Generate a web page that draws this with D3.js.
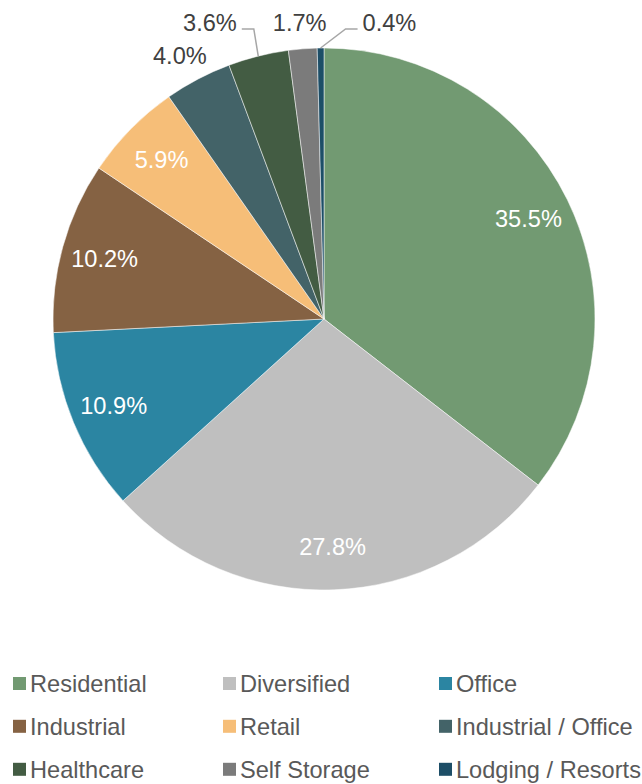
<!DOCTYPE html>
<html lang="en">
<head>
    <meta charset="UTF-8">
    <title>Pie Chart</title>
    <script src="https://d3js.org/d3.v7.min.js"></script>
    <style>
        body { margin: 0; background: #fff; }
        text { font-family: "Liberation Sans", Arial, sans-serif; }
    </style>
</head>
<body>
    <svg width="642" height="784"></svg>
    <script>
        // Data
        const categories = ["Residential", "Diversified", "Office", "Industrial", "Retail",
            "Industrial / Office", "Healthcare", "Self Storage", "Lodging / Resorts"];
        const shares = [35.5, 27.8, 10.9, 10.2, 5.9, 4.0, 3.6, 1.7, 0.4];
        const colors = ["#729a72", "#bfbfbf", "#2b85a2", "#856243", "#f6be78",
            "#436368", "#435c43", "#7b7b7b", "#1d4e67"];

        const data = categories.map((c, i) => ({ name: c, value: shares[i], color: colors[i] }));

        const cx = 324, cy = 319, radius = 271;
        const fontSize = 23.6;
        const chartTop = 19.5;   // highest centre line a label may sit on

        const svg = d3.select("svg");
        const g = svg.append("g").attr("transform", `translate(${cx},${cy})`);

        const pie = d3.pie().sort(null).value(d => d.value);
        const arc = d3.arc().innerRadius(0).outerRadius(radius);
        const arcs = pie(data);

        g.selectAll("path.slice")
            .data(arcs)
            .enter().append("path")
            .attr("class", "slice")
            .attr("d", arc)
            .attr("fill", d => d.data.color)
            .attr("stroke", "#fff")
            .attr("stroke-width", 0.5);

        const mid = d => (d.startAngle + d.endAngle) / 2;

        // Inside labels
        const inner = arcs.filter(d => d.data.value >= 5);
        const labelArc = d3.arc().innerRadius(radius * 0.84).outerRadius(radius * 0.84);
        g.selectAll("text.inner")
            .data(inner)
            .enter().append("text")
            .attr("class", "inner")
            .attr("transform", d => `translate(${labelArc.centroid(d)})`)
            .attr("text-anchor", "middle")
            .attr("dy", "0.35em")
            .attr("fill", "#fff")
            .style("font-size", fontSize + "px")
            .text(d => d.data.value.toFixed(1) + "%");

        // Outside labels
        const outR = radius + 12;
        const outer = arcs.filter(d => d.data.value < 5).map(d => {
            const a = mid(d);
            return {
                d: d, a: a,
                px: radius * Math.sin(a), py: -radius * Math.cos(a)
            };
        });

        const outText = g.selectAll("text.outer")
            .data(outer)
            .enter().append("text")
            .attr("class", "outer")
            .attr("text-anchor", "middle")
            .attr("dy", "0.35em")
            .attr("fill", "#404040")
            .style("font-size", fontSize + "px")
            .text(o => o.d.data.value.toFixed(1) + "%");

        // label box sits just outside the rim, pushed out by half its size
        outText.each(function (o) {
            o.w = this.getComputedTextLength();
            o.x0 = outR * Math.sin(o.a) + Math.sin(o.a) * o.w / 2;
            o.y0 = Math.max(-outR * Math.cos(o.a) - Math.cos(o.a) * 14, chartTop - cy);
            o.x = o.x0; o.y = o.y0;
        });

        // labels crowded around the top: spread out from the middle one
        const gap = 36;
        const topLabels = outer.filter(o => Math.min(o.a, 2 * Math.PI - o.a) < 20 * Math.PI / 180)
            .sort((a, b) => a.x0 - b.x0);
        if (topLabels.length > 1) {
            const m = Math.floor(topLabels.length / 2);
            const rowTop = topLabels[m].y0;
            for (let i = m - 1; i >= 0; i--) {
                const right = topLabels[i + 1].x - topLabels[i + 1].w / 2 - gap;
                if (topLabels[i].x + topLabels[i].w / 2 > right) {
                    topLabels[i].x = right - topLabels[i].w / 2;
                    topLabels[i].y = rowTop;
                }
            }
            for (let i = m + 1; i < topLabels.length; i++) {
                const left = topLabels[i - 1].x + topLabels[i - 1].w / 2 + gap;
                if (topLabels[i].x - topLabels[i].w / 2 < left) {
                    topLabels[i].x = left + topLabels[i].w / 2;
                    topLabels[i].y = rowTop;
                }
            }
        }

        outText.attr("x", o => o.x).attr("y", o => o.y);

        // Leader lines for labels that were moved
        const moved = outer.filter(o => Math.hypot(o.x - o.x0, o.y - o.y0) > 5);
        g.selectAll("path.leader")
            .data(moved)
            .enter().append("path")
            .attr("class", "leader")
            .attr("fill", "none")
            .attr("stroke", "#a6a6a6")
            .attr("stroke-width", 1.5)
            .attr("d", o => {
                const side = o.x < o.px ? 1 : -1;
                const sx = o.x + side * (o.w / 2 + 5);
                const sy = o.y + 6;
                return `M${sx},${sy}H${sx + side * 12}L${o.px},${o.py}`;
            });

        // Legend
        const colX = [13, 223, 439];
        const rowY = [683.5, 726.3, 769.3];
        const legend = svg.selectAll("g.legend")
            .data(data)
            .enter().append("g")
            .attr("class", "legend")
            .attr("transform", (d, i) => `translate(${colX[i % 3]},${rowY[Math.floor(i / 3)]})`);

        legend.append("rect")
            .attr("x", 0)
            .attr("y", -6.5)
            .attr("width", 13)
            .attr("height", 13)
            .attr("fill", d => d.color);

        legend.append("text")
            .attr("x", 17)
            .attr("dy", "0.35em")
            .attr("fill", "#595959")
            .style("font-size", fontSize + "px")
            .text(d => d.name);
    </script>
</body>
</html>
